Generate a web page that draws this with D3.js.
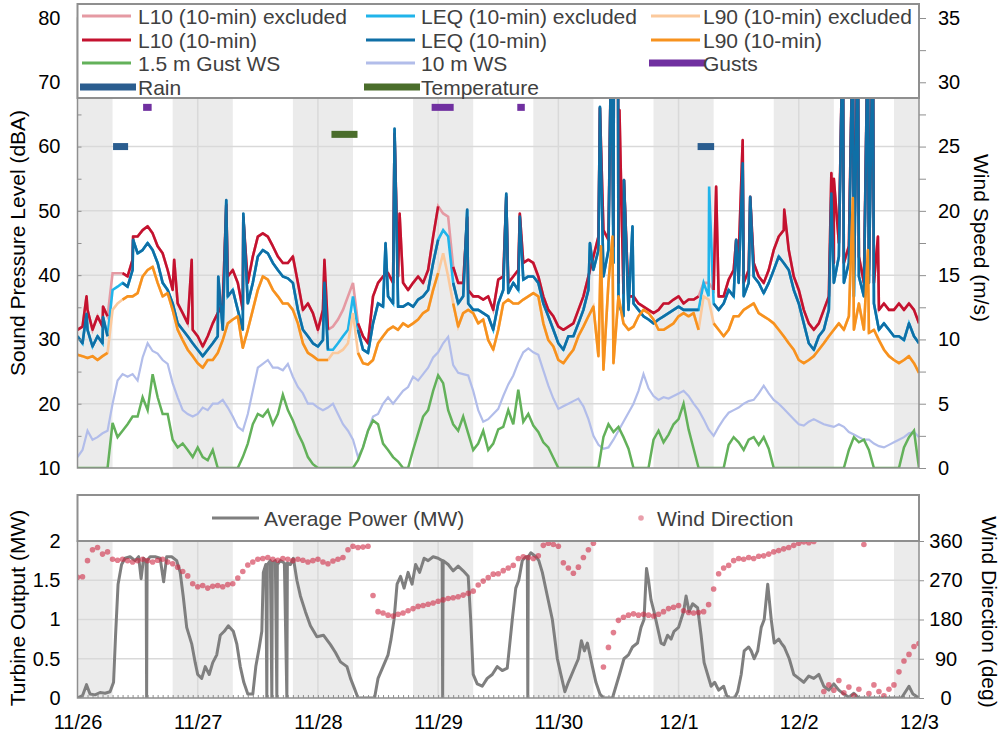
<!DOCTYPE html>
<html>
<head>
<meta charset="utf-8">
<script src="https://cdn.jsdelivr.net/npm/d3@7"></script>
<style>
  body { margin: 0; background: #fff; }
  svg { font-family: "Liberation Sans", Arial, sans-serif; }
</style>
</head>
<body>
<svg id="chart" width="1002" height="735"></svg>
<script>
// hours since 11/26 00:00, one value per hour (0..168)
const dayLabels = ["11/26", "11/27", "11/28", "11/29", "11/30", "12/1", "12/2", "12/3"];
const nightBands = [[0, 7], [19, 31], [43, 55], [67, 79], [91, 103], [115, 127], [139, 151], [163, 168]];
const excludedSpans = [[6.5, 8.5], [50.5, 55.5], [72.5, 74.5], [124.5, 126.5]];

const l10 = [
  31.5, 32.0, 34.6, 31.5, 33.6, 32.0, 33.6, 40.3, 40.3, 40.3,
  39.8, 42.4, 46.0, 47.0, 47.6, 46.5, 44.5, 43.4, 40.8, 37.7,
  35.6, 34.1, 32.5, 31.5, 30.5, 28.9, 30.5, 32.5, 34.1, 35.6,
  39.8, 40.8, 38.8, 34.6, 38.8, 42.9, 46.0, 46.5, 46.0, 44.5,
  42.9, 41.9, 41.9, 42.9, 38.8, 34.6, 35.6, 34.1, 31.5, 34.6,
  31.5, 32.0, 33.1, 34.6, 36.7, 38.8, 32.5, 30.5, 29.4, 36.7,
  38.8, 39.8, 40.3, 38.8, 39.8, 38.8, 37.7, 38.8, 39.8, 38.8,
  40.8, 46.0, 50.7, 49.6, 49.1, 41.3, 38.8, 38.8, 37.7, 36.7,
  36.7, 36.2, 36.7, 34.6, 39.3, 39.8, 38.8, 39.8, 40.8, 41.9,
  42.4, 41.9, 39.8, 36.7, 34.6, 33.6, 32.0, 31.5, 32.0, 32.5,
  34.6, 36.7, 39.8, 42.9, 46.0, 47.0, 45.5, 44.5, 38.8, 37.2,
  36.7, 36.7, 35.6, 35.1, 34.6, 34.1, 34.6, 35.6, 35.6, 36.2,
  36.7, 35.6, 36.2, 36.2, 36.7, 38.8, 38.8, 37.7, 36.7, 36.7,
  39.3, 40.8, 42.9, 38.8, 40.8, 41.9, 39.8, 38.8, 40.8, 43.9,
  46.0, 47.0, 43.9, 39.8, 37.7, 34.6, 32.5, 31.5, 32.5, 34.6,
  36.7, 41.9, 45.0, 41.9, 44.5, 40.8, 42.9, 38.8, 40.8, 38.8,
  34.6, 35.6, 34.6, 34.6, 35.6, 34.6, 35.6, 34.6, 32.5
];
const leq = [
  30.5, 29.4, 31.5, 28.9, 30.5, 29.4, 30.5, 37.7, 38.2, 38.8,
  38.2, 40.8, 43.4, 43.9, 45.0, 43.9, 41.9, 38.8, 37.7, 35.6,
  32.5, 31.5, 30.5, 29.4, 28.4, 27.4, 28.4, 29.4, 30.5, 31.5,
  36.7, 37.7, 34.6, 31.5, 35.6, 38.8, 42.9, 43.9, 43.4, 41.9,
  40.8, 39.8, 39.5, 38.8, 34.6, 31.5, 30.5, 29.4, 28.9, 29.9,
  28.4, 28.4, 29.4, 30.5, 31.5, 36.7, 31.5, 28.4, 27.9, 32.5,
  35.6, 35.1, 36.7, 35.6, 35.1, 35.1, 35.6, 35.1, 36.2, 36.7,
  37.7, 41.9, 45.5, 47.0, 46.0, 38.8, 35.6, 36.7, 35.6, 34.6,
  34.6, 34.1, 33.6, 31.5, 35.6, 37.7, 37.2, 38.8, 37.7, 39.3,
  39.8, 39.8, 38.8, 35.6, 33.6, 31.5, 29.4, 28.4, 30.5, 30.5,
  32.5, 34.6, 37.7, 40.8, 43.9, 39.8, 43.9, 41.9, 35.6, 33.6,
  34.6, 35.6, 34.6, 33.6, 33.1, 32.5, 33.1, 33.6, 34.1, 34.6,
  35.1, 34.6, 34.6, 34.6, 34.6, 38.8, 36.7, 35.6, 34.6, 35.6,
  37.7, 36.7, 38.8, 36.7, 38.8, 39.8, 38.8, 37.2, 38.8, 40.8,
  42.9, 41.9, 40.8, 37.7, 35.6, 32.5, 29.4, 28.4, 30.5, 31.5,
  34.6, 38.8, 42.9, 38.8, 41.9, 36.7, 39.8, 36.7, 38.8, 35.6,
  31.5, 32.5, 31.5, 30.5, 30.5, 29.9, 32.5, 30.5, 29.4
];
const l90 = [
  27.6, 27.4, 27.1, 27.4, 26.8, 27.4, 27.9, 34.6, 35.6, 36.2,
  36.7, 36.7, 37.2, 39.8, 40.8, 41.3, 38.8, 36.7, 37.2, 34.6,
  31.5, 29.9, 28.4, 27.4, 26.3, 25.6, 26.8, 26.8, 27.9, 29.9,
  32.5, 33.1, 33.6, 28.7, 31.5, 34.6, 37.7, 39.8, 39.3, 37.7,
  36.7, 35.6, 35.6, 34.6, 32.5, 29.4, 27.9, 27.4, 26.8, 26.8,
  26.8, 27.9, 27.9, 28.4, 29.4, 34.1, 27.9, 26.3, 26.1, 26.8,
  29.4, 30.5, 31.5, 32.0, 31.5, 32.5, 32.0, 32.5, 33.1, 34.1,
  34.6, 37.7, 40.3, 43.4, 39.8, 35.6, 32.0, 34.1, 34.6, 34.1,
  32.5, 33.1, 29.9, 28.4, 31.5, 35.6, 36.2, 35.6, 35.6, 36.2,
  36.7, 37.2, 36.7, 32.5, 29.9, 28.9, 26.8, 26.3, 27.4, 28.4,
  30.5, 32.0, 33.6, 35.1, 27.4, 25.3, 38.8, 26.3, 36.7, 32.5,
  31.5, 32.0, 33.6, 34.6, 34.1, 33.1, 31.5, 31.5, 32.0, 32.5,
  33.6, 34.1, 33.6, 34.1, 31.5, 36.7, 36.2, 32.5, 31.5, 30.5,
  31.5, 33.6, 33.6, 34.6, 35.1, 35.6, 34.1, 33.6, 33.1, 32.5,
  31.5, 30.5, 29.4, 28.4, 26.8, 26.3, 26.8, 27.4, 28.4, 29.4,
  30.5, 31.5, 32.5, 31.5, 33.6, 31.5, 35.6, 31.5, 31.0, 31.5,
  29.9, 28.4, 27.4, 26.8, 26.3, 26.8, 27.4, 26.3, 24.8
];

// short 10-min peaks between the hourly readings: [hour, dBA]
const l10Spikes = [
  [1.8, 36.7], [5.1, 35.1], [11.1, 46], [19.3, 42.4], [22.8, 42.4], [29.7, 51], [33.1, 49],
  [49.3, 42.4], [63.3, 62], [64.3, 49.6], [77.8, 49], [85.6, 52.2], [88.3, 49.6],
  [104.3, 66], [106.6, 80], [107.1, 80], [107.9, 80], [108.2, 65.7], [109.1, 54.8],
  [127.5, 53.8], [131.5, 45.5], [132.8, 61], [134.3, 52.2], [141.1, 50.2],
  [150.5, 55.9], [151, 55], [152.8, 80], [154.8, 80], [155.8, 80], [157.8, 80], [158.8, 80], [159.8, 46]
];
const leqSpikes = [
  [1.8, 34], [5.1, 33.5], [11.1, 45.5], [28.1, 39.8], [29.7, 51.7], [33.1, 49.6],
  [49.3, 38.8], [61.5, 45], [63.3, 62.8], [63.8, 43.4], [77.8, 50.2], [85.6, 52.7], [88.3, 49.1],
  [102.3, 45], [104.3, 66.2], [106.6, 80], [107.1, 80], [107.9, 80], [109.1, 54.8], [110.8, 47.6],
  [126.1, 53.8], [131.5, 45.5], [132.8, 57.4], [134.3, 52.2],
  [150.5, 52.7], [152.8, 80], [154.8, 80], [155.8, 80], [157.8, 80], [158.8, 80]
];
const l90Spikes = [[104.5, 44.5], [106.8, 46], [154.8, 52], [157.8, 43.9]];

// m/s
const ws10 = [
  0.85, 1.4, 2.9, 2.2, 2.4, 2.7, 2.9, 5.0, 6.8, 7.3,
  7.1, 7.3, 6.8, 8.6, 9.7, 9.1, 8.9, 8.4, 8.1, 6.6,
  5.5, 4.5, 4.2, 4.0, 4.2, 4.7, 4.5, 5.0, 5.0, 5.3,
  4.7, 4.0, 3.2, 2.9, 4.2, 6.0, 7.8, 8.1, 8.4, 7.8,
  7.8, 7.6, 8.1, 7.1, 6.3, 5.8, 5.0, 5.0, 4.7, 4.5,
  4.7, 5.0, 4.2, 3.4, 2.9, 2.2, 0.85, 1.6, 2.9, 4.0,
  4.2, 5.0, 5.5, 5.0, 5.5, 6.0, 6.3, 7.1, 6.8, 7.3,
  7.8, 8.6, 9.0, 9.7, 10.2, 8.0, 7.4, 7.3, 7.2, 6.0,
  4.5, 3.6, 3.8, 4.2, 4.6, 5.6, 6.5, 7.2, 8.2, 9.0,
  9.3, 9.0, 8.8, 7.6, 6.4, 5.4, 4.6, 4.8, 5.0, 5.2,
  5.4, 4.8, 3.8, 2.5, 1.8, 1.5, 1.6, 2.2, 2.9, 3.6,
  4.3, 5.0, 6.0, 7.3, 6.2, 5.6, 5.3, 5.5, 5.4, 5.6,
  5.8, 6.0, 5.6, 5.0, 4.5, 3.8, 3.0, 2.5, 3.2, 3.8,
  4.3, 4.5, 4.7, 5.0, 5.2, 5.3, 5.8, 6.4, 5.8, 5.3,
  5.0, 4.6, 4.2, 3.8, 3.4, 3.3, 3.6, 3.8, 3.6, 3.4,
  3.3, 3.2, 3.4, 3.2, 2.8, 2.6, 2.4, 2.2, 2.2, 1.9,
  1.7, 1.6, 1.8, 2.0, 2.2, 2.4, 2.7, 2.8, 2.4
];
const gustWs = [
  0, 0, 0, 0, 0, 0, 0, 3.5, 2.4, 2.9,
  3.4, 4.0, 4.0, 5.5, 4.5, 7.3, 5.5, 4.2, 4.2, 2.2,
  1.6, 1.9, 1.4, 0.85, 1.6, 0.85, 0.6, 1.4, 0, 0,
  0, 0, 0, 0.85, 1.9, 3.4, 4.2, 4.0, 4.5, 3.4,
  4.2, 5.7, 4.5, 3.7, 2.7, 1.9, 0.85, 0.3, 0, 0,
  0, 0, 0, 0, 0, 0, 0.6, 1.6, 2.9, 3.7,
  3.4, 1.9, 1.4, 0.85, 0.5, 0, 0, 1.4, 2.7, 4.0,
  4.5, 6.0, 7.2, 6.6, 4.5, 3.4, 2.9, 4.0, 2.7, 1.4,
  1.9, 2.9, 1.4, 1.9, 3.0, 3.2, 4.5, 3.4, 6.1, 3.6,
  4.2, 3.3, 2.8, 2.0, 1.6, 0.8, 0, 0, 0, 0,
  0, 0, 0, 0, 0, 2.4, 3.4, 2.8, 3.2, 2.4,
  1.5, 0, 0, 0, 0, 2.2, 2.9, 2.0, 2.6, 3.4,
  3.8, 5.0, 3.0, 1.5, 0, 0, 0, 0, 0, 0,
  1.8, 2.4, 2.0, 1.4, 2.2, 2.4, 1.8, 2.4, 1.5, 0,
  0, 0, 0, 0, 0, 0, 0, 0, 0, 0,
  0, 0, 0, 0, 1.4, 2.4, 2.0, 2.2, 1.4, 0,
  0, 0, 0, 0, 0, 1.6, 2.4, 2.9, 0
];

// event periods [start hour, end hour]
const gustPeriods = [[13.1, 14.8], [70.7, 75.1], [87.8, 89.3]];
const rainPeriods = [[7.1, 10.1], [123.8, 127.1]];
const temperaturePeriods = [[50.7, 55.9]];

// [hour, MW]
const power = [
  [0, 0], [1, 0.03], [1.8, 0.17], [2.5, 0.05], [3.5, 0.04], [4.5, 0.07], [5.5, 0.06], [6.5, 0.08],
  [7.2, 0.2], [7.6, 0.8], [8.1, 1.45], [8.8, 1.7], [9.5, 1.78], [10.5, 1.8], [11.5, 1.75], [12.2, 1.8],
  [12.7, 1.52], [13.2, 1.78], [13.7, 1.75], [13.8, 0], [13.9, 1.75], [14.5, 1.8], [15.5, 1.8], [16.5, 1.78],
  [17.2, 1.48], [17.8, 1.8], [18.8, 1.8], [19.8, 1.75], [20.5, 1.6], [21.1, 1.3], [21.8, 0.9], [22.8, 0.69],
  [23.5, 0.45], [24, 0.3], [24.8, 0.25], [25.5, 0.4], [26.3, 0.3], [27, 0.45], [27.8, 0.55], [28.5, 0.8],
  [29.3, 0.85], [30.1, 0.92], [31.1, 0.85], [31.8, 0.69], [32.5, 0.4], [33.2, 0.2], [34, 0.05], [35, 0.05],
  [35.6, 0.4], [36.3, 0.65], [36.8, 0.85], [37.1, 1.6], [37.6, 1.7], [37.8, 0], [37.9, 1.7], [38.5, 1.75],
  [38.8, 0], [38.9, 1.72], [39.5, 1.75], [39.8, 0], [39.9, 1.7], [40.5, 1.75], [41.3, 1.72], [41.8, 0],
  [41.9, 1.72], [42.5, 1.7], [43.1, 1.78], [43.8, 1.5], [44.5, 1.3], [45.5, 1.1], [46.5, 0.92], [47.8, 0.78],
  [49.1, 0.8], [50.5, 0.68], [51.5, 0.58], [52.5, 0.46], [53.8, 0.4], [54.5, 0.25], [55.3, 0.12], [56, 0],
  [59.3, 0], [60, 0.25], [61, 0.4], [62, 0.55], [62.6, 0.75], [63.2, 1.0], [63.8, 1.45], [64.5, 1.55],
  [65.2, 1.4], [66, 1.6], [66.8, 1.45], [67.5, 1.7], [68.3, 1.6], [69.2, 1.78], [70, 1.75], [71, 1.8],
  [72, 1.78], [72.8, 1.75], [72.9, 0], [73, 1.75], [74, 1.7], [75, 1.62], [76, 1.68], [77, 1.62],
  [78, 1.55], [78.5, 1.0], [79, 0.3], [79.8, 0.18], [80.8, 0.15], [81.8, 0.25], [82.8, 0.3], [83.8, 0.4],
  [84.8, 0.35], [85.8, 0.38], [86.8, 1.0], [87.5, 1.4], [88.1, 1.5], [88.8, 1.75], [89.5, 1.8], [89.8, 1.8],
  [89.9, 0], [90, 1.8], [90.5, 1.85], [91.5, 1.8], [92.1, 1.75], [92.8, 1.6], [93.8, 1.3], [94.8, 1.0],
  [95.8, 0.5], [96.5, 0.3], [97.3, 0.08], [98, 0.2], [99, 0.35], [100, 0.5], [100.6, 0.73], [101.2, 0.6],
  [101.8, 0.7], [102.8, 0.4], [103.5, 0.2], [104.3, 0.05], [105, 0], [106.8, 0], [107.5, 0.15], [108.2, 0.3],
  [109.1, 0.5], [110, 0.55], [110.8, 0.65], [111.8, 0.7], [112.5, 0.9], [113.1, 1.0], [113.6, 1.65], [114, 1.5],
  [114.5, 1.25], [115.1, 1.1], [115.8, 0.9], [116.5, 0.7], [117.1, 0.68], [117.8, 0.8], [118.5, 0.75], [119.1, 0.85],
  [120, 0.9], [120.5, 1.0], [121, 1.1], [121.5, 1.3], [122.1, 1.1], [122.8, 1.2], [123.8, 1.15], [124.5, 0.8],
  [125.1, 0.45], [125.8, 0.3], [126.5, 0.15], [127.2, 0.2], [128, 0.1], [129, 0.15], [129.6, 0.03], [130.2, 0],
  [131.2, 0], [131.8, 0.08], [132.5, 0.3], [133.1, 0.6], [134, 0.65], [134.5, 0.6], [135.1, 0.5], [135.8, 0.6],
  [136.5, 0.9], [137.1, 1.0], [137.8, 1.45], [138.5, 1.0], [139.1, 0.7], [140, 0.75], [140.5, 0.7], [141.1, 0.65],
  [142.1, 0.5], [143, 0.3], [144, 0.25], [145, 0.2], [146, 0.28], [147, 0.25], [148, 0.3], [149, 0.15],
  [150, 0.1], [151, 0.18], [152, 0.1], [153, 0.05], [154, 0.01], [155, 0.06], [156, 0], [164.5, 0],
  [165.3, 0.08], [166, 0.15], [166.8, 0.05], [168, 0]
];

// degrees, hourly (null = no reading)
const windDir = [
  277, 278, 315, 340, 345, 330, 335, 318, 316, 318,
  315, 312, 315, 318, 315, 312, 316, 318, 312, 308,
  300, 290, 280, 262, 255, 258, 252, 256, 258, 255,
  260, 262, 275, 290, 305, 312, 318, 320, 322, 318,
  316, 320, 318, 315, 318, 316, 312, 315, 318, 312,
  308, 314, 318, 322, 340, 348, 345, 346, 348, 235,
  198, 195, 190, 188, 192, 195, 200, 205, 210, 212,
  215, 218, 222, 225, 228, 230, 232, 236, 240, 245,
  259, 268, 276, 284, 285, 292, 298, 304, 320, 324,
  322, 320, 326, 350, 355, 352, 348, 310, 298, 286,
  300, 322, 340, 355, null, 71, 116, 150, 178, 185,
  190, 193, 190, 192, 190, 188, 192, 198, 205, 208,
  212, 200, 196, 195, 196, 198, 214, 250, 285, 298,
  304, 315, 320, 318, 322, 320, 325, 326, 330, 335,
  338, 342, 345, 350, 355, 358, 356, 359, null, 15,
  30, 18, 40, 12, 25, 5, 20, 352, 10, 30,
  15, 5, 20, 30, 60, 85, 100, 118, 125
];

const C = {
  l10: "#c4122f", l10x: "#e59aa3",
  leq: "#0f6fa6", leqx: "#20b4ea",
  l90: "#f7921e", l90x: "#fbc99c",
  gust: "#63b15a", ws: "#b2bdea",
  gusts: "#7030a0", rain: "#2a5d8f", temp: "#4a6d2b",
  power: "#7f7f7f", dir: "#cf2a45",
  night: "#ebebeb", grid: "#d9d9d9", frame: "#8f8f8f", text: "#404040"
};

const svg = d3.select("#chart");
const x = d3.scaleLinear().domain([0, 168]).range([77.5, 919]);
const yDb = d3.scaleLinear().domain([10, 80]).range([468, 18]);
const yWs = d3.scaleLinear().domain([0, 35]).range([468, 18]);
const yP = d3.scaleLinear().domain([0, 2]).range([698, 541]);
const yDir = d3.scaleLinear().domain([0, 360]).range([698, 541]);

const hourly = (arr) => arr.map((v, h) => ({ h, v }));
const withSpikes = (arr, spikes) =>
  hourly(arr).concat(spikes.map(([h, v]) => ({ h, v }))).sort((a, b) => a.h - b.h);
const isExcluded = (h) => excludedSpans.some(([a, b]) => h > a && h < b);

// clip paths
const defs = svg.append("defs");
defs.append("clipPath").attr("id", "clipTop")
  .append("rect").attr("x", x(0)).attr("y", 18).attr("width", x(168) - x(0)).attr("height", 450);
defs.append("clipPath").attr("id", "clipBot")
  .append("rect").attr("x", x(0)).attr("y", 541).attr("width", x(168) - x(0)).attr("height", 157);

function panelBackground(yTop, yBottom, hLines) {
  const g = svg.append("g");
  g.selectAll("rect.night").data(nightBands).join("rect")
    .attr("x", (d) => x(d[0])).attr("width", (d) => x(d[1]) - x(d[0]))
    .attr("y", yTop).attr("height", yBottom - yTop).attr("fill", C.night);
  g.selectAll("line.h").data(hLines).join("line")
    .attr("x1", x(0)).attr("x2", x(168)).attr("y1", (d) => d).attr("y2", (d) => d)
    .attr("stroke", C.grid).attr("stroke-width", 1.5);
  g.selectAll("line.v").data(d3.range(1, 7)).join("line")
    .attr("x1", (d) => x(d * 24)).attr("x2", (d) => x(d * 24)).attr("y1", yTop).attr("y2", yBottom)
    .attr("stroke", C.grid).attr("stroke-width", 1.5);
}

// ---------- top panel ----------
panelBackground(18, 468, d3.range(20, 81, 10).map(yDb));

const topG = svg.append("g").attr("clip-path", "url(#clipTop)");
const lineWs = d3.line().x((d) => x(d.h)).y((d) => yWs(d.v));
const lineDb = d3.line().x((d) => x(d.h)).y((d) => yDb(d.v));
const lineDbKept = d3.line().x((d) => x(d.h)).y((d) => yDb(d.v)).defined((d) => !isExcluded(d.h));

topG.append("path").datum(hourly(ws10)).attr("d", lineWs)
  .attr("fill", "none").attr("stroke", C.ws).attr("stroke-width", 2.2);
topG.append("path").datum(hourly(gustWs)).attr("d", lineWs)
  .attr("fill", "none").attr("stroke", C.gust).attr("stroke-width", 2.5);

const noise = [
  { data: withSpikes(l10, l10Spikes), c: C.l10, cx: C.l10x },
  { data: withSpikes(leq, leqSpikes), c: C.leq, cx: C.leqx },
  { data: withSpikes(l90, l90Spikes), c: C.l90, cx: C.l90x }
];
noise.forEach((s) => {
  topG.append("path").datum(s.data).attr("d", lineDb)
    .attr("fill", "none").attr("stroke", s.cx).attr("stroke-width", 2.6);
});
noise.forEach((s) => {
  topG.append("path").datum(s.data).attr("d", lineDbKept)
    .attr("fill", "none").attr("stroke", s.c).attr("stroke-width", 2.6).attr("stroke-linejoin", "round");
});

const periodBars = [
  { data: gustPeriods, level: 66.1, c: C.gusts },
  { data: temperaturePeriods, level: 61.9, c: C.temp },
  { data: rainPeriods, level: 60, c: C.rain }
];
periodBars.forEach((p) => {
  topG.append("g").selectAll("rect").data(p.data).join("rect")
    .attr("x", (d) => x(d[0])).attr("width", (d) => x(d[1]) - x(d[0]))
    .attr("y", yDb(p.level) - 3.5).attr("height", 7).attr("fill", p.c);
});

svg.append("rect").attr("x", x(0)).attr("y", 18).attr("width", x(168) - x(0)).attr("height", 450)
  .attr("fill", "none").attr("stroke", C.frame).attr("stroke-width", 1.5);

// left dBA axis
svg.append("g").attr("transform", `translate(${x(0)},0)`)
  .call(d3.axisLeft(yDb).tickValues(d3.range(10, 81, 10)).tickSize(0).tickPadding(17))
  .call((g) => g.select(".domain").remove())
  .call((g) => g.selectAll("text").attr("font-size", "20px").attr("fill", "#000"));
svg.append("g").attr("transform", `translate(${x(0)},0)`)
  .call(d3.axisRight(yDb).tickValues(d3.range(15, 80, 5)).tickSize(4).tickFormat(""))
  .call((g) => g.select(".domain").remove())
  .call((g) => g.selectAll("line").attr("stroke", C.frame));

// right wind speed axis
svg.append("g").attr("transform", `translate(${x(168)},0)`)
  .call(d3.axisRight(yWs).tickValues(d3.range(0, 35.1, 2.5)).tickSize(7).tickPadding(12)
    .tickFormat((v) => (v % 5 === 0 ? v : "")))
  .call((g) => g.select(".domain").remove())
  .call((g) => g.selectAll("line").attr("stroke", C.frame))
  .call((g) => g.selectAll("text").attr("font-size", "20px").attr("fill", "#000"));

// top legend
svg.append("rect").attr("x", x(0)).attr("y", 4).attr("width", x(168) - x(0)).attr("height", 94)
  .attr("fill", "#fff").attr("stroke", C.frame).attr("stroke-width", 2);

const legendTop = [
  { label: "L10 (10-min) excluded", c: C.l10x, col: 0, row: 0 },
  { label: "LEQ (10-min) excluded", c: C.leqx, col: 1, row: 0 },
  { label: "L90 (10-min) excluded", c: C.l90x, col: 2, row: 0 },
  { label: "L10 (10-min)", c: C.l10, col: 0, row: 1 },
  { label: "LEQ (10-min)", c: C.leq, col: 1, row: 1 },
  { label: "L90 (10-min)", c: C.l90, col: 2, row: 1 },
  { label: "1.5 m Gust WS", c: C.gust, col: 0, row: 2 },
  { label: "10 m WS", c: C.ws, col: 1, row: 2 },
  { label: "Gusts", c: C.gusts, col: 2, row: 2, thick: true },
  { label: "Rain", c: C.rain, col: 0, row: 3, thick: true },
  { label: "Temperature", c: C.temp, col: 1, row: 3, thick: true }
];
const colX = [82, 366, 651];
const textX = [138, 421, 703];
const rowY = [16, 40, 63, 87];
const lg = svg.append("g").selectAll("g").data(legendTop).join("g");
lg.append("line")
  .attr("x1", (d) => colX[d.col] - (d.thick ? 2 : 0))
  .attr("x2", (d) => colX[d.col] + (d.thick ? 54 : 49))
  .attr("y1", (d) => rowY[d.row]).attr("y2", (d) => rowY[d.row])
  .attr("stroke", (d) => d.c).attr("stroke-width", (d) => (d.thick ? 7 : 3));
lg.append("text")
  .attr("x", (d) => textX[d.col]).attr("y", (d) => rowY[d.row] + 7.5)
  .attr("font-size", "21px").attr("fill", C.text).text((d) => d.label);

svg.append("text").attr("transform", "translate(25,243) rotate(-90)")
  .attr("text-anchor", "middle").attr("font-size", "21px").text("Sound Pressure Level (dBA)");
svg.append("text").attr("transform", "translate(974,238) rotate(90)")
  .attr("text-anchor", "middle").attr("font-size", "21px").text("Wind Speed (m/s)");

// ---------- bottom panel ----------
panelBackground(541, 698, [0.5, 1, 1.5].map(yP));

const botG = svg.append("g").attr("clip-path", "url(#clipBot)");
botG.append("path").datum(power)
  .attr("d", d3.line().x((d) => x(d[0])).y((d) => yP(d[1])))
  .attr("fill", "none").attr("stroke", C.power).attr("stroke-width", 3).attr("stroke-linejoin", "round");
botG.selectAll("circle").data(hourly(windDir).filter((d) => d.v !== null)).join("circle")
  .attr("cx", (d) => x(d.h)).attr("cy", (d) => yDir(d.v)).attr("r", 2.8)
  .attr("fill", C.dir).attr("fill-opacity", 0.6);

svg.append("rect").attr("x", x(0)).attr("y", 541).attr("width", x(168) - x(0)).attr("height", 157)
  .attr("fill", "none").attr("stroke", C.frame).attr("stroke-width", 1.5);

// hourly minor ticks along the baseline
svg.append("g").attr("transform", `translate(0,${yP(0)})`)
  .call(d3.axisBottom(x).tickValues(d3.range(1, 168)).tickSizeInner(-3).tickSizeOuter(0).tickFormat(""))
  .call((g) => g.select(".domain").remove())
  .call((g) => g.selectAll("line").attr("stroke", C.frame));

svg.append("g").attr("transform", `translate(0,${yP(0)})`)
  .call(d3.axisBottom(x).tickValues(d3.range(0, 169, 24)).tickSize(0).tickPadding(17)
    .tickFormat((v) => dayLabels[v / 24]))
  .call((g) => g.select(".domain").remove())
  .call((g) => g.selectAll("text").attr("font-size", "20px").attr("fill", "#000"));

svg.append("g").attr("transform", `translate(${x(0)},0)`)
  .call(d3.axisLeft(yP).tickValues([0, 0.5, 1, 1.5, 2]).tickSize(0).tickPadding(17).tickFormat((v) => String(v)))
  .call((g) => g.select(".domain").remove())
  .call((g) => g.selectAll("text").attr("font-size", "20px").attr("fill", "#000"));

svg.append("g").attr("transform", `translate(${x(168)},0)`)
  .call(d3.axisRight(yDir).tickValues([0, 90, 180, 270, 360]).tickSize(5).tickPadding(22))
  .call((g) => g.select(".domain").remove())
  .call((g) => g.selectAll("line").attr("stroke", C.frame))
  .call((g) => g.selectAll("text").attr("font-size", "20px").attr("fill", "#000").attr("text-anchor", "middle"));

// bottom legend
svg.append("rect").attr("x", x(0)).attr("y", 495).attr("width", x(168) - x(0)).attr("height", 46)
  .attr("fill", "#fff").attr("stroke", C.frame).attr("stroke-width", 2);
svg.append("line").attr("x1", 212).attr("x2", 259).attr("y1", 518).attr("y2", 518)
  .attr("stroke", C.power).attr("stroke-width", 3);
svg.append("text").attr("x", 264).attr("y", 525.5).attr("font-size", "21px").attr("fill", C.text)
  .text("Average Power (MW)");
svg.append("circle").attr("cx", 641).attr("cy", 518).attr("r", 2.8)
  .attr("fill", C.dir).attr("fill-opacity", 0.45);
svg.append("text").attr("x", 657).attr("y", 525.5).attr("font-size", "21px").attr("fill", C.text)
  .text("Wind Direction");

svg.append("text").attr("transform", "translate(25,608) rotate(-90)")
  .attr("text-anchor", "middle").attr("font-size", "21px").text("Turbine Output  (MW)");
svg.append("text").attr("transform", "translate(982,612) rotate(90)")
  .attr("text-anchor", "middle").attr("font-size", "21px").text("Wind Direction (deg)");
</script>
</body>
</html>
